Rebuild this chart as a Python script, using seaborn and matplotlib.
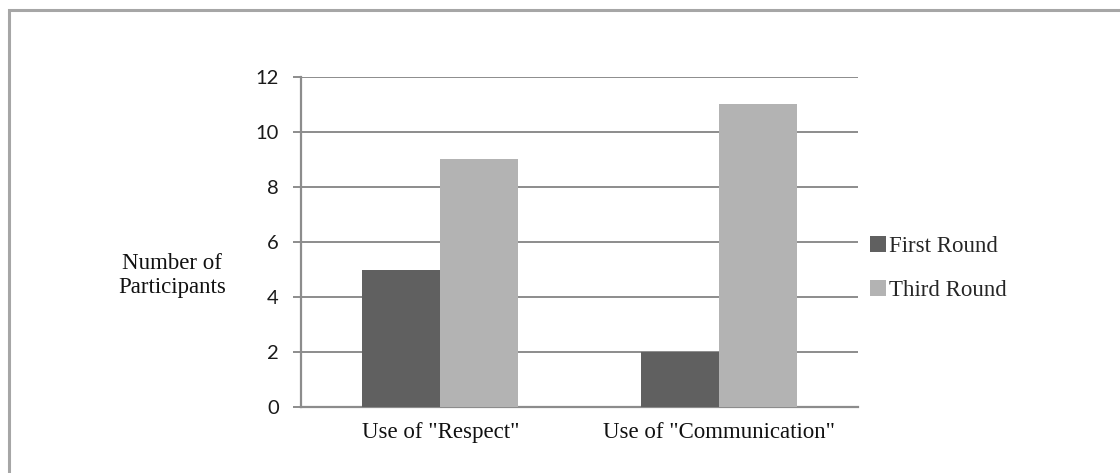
"""
Use of key words, first vs third round (bar chart recreation)
"""

import seaborn as sns
import numpy as np
import pandas as pd
import matplotlib.pyplot as plt
from matplotlib.patches import Rectangle

# data
categories = ['Use of "Respect"', 'Use of "Communication"']
rounds = ["First Round", "Third Round"]
first_round = [5, 2]
third_round = [9, 11]
y_ticks = [0, 2, 4, 6, 8, 10, 12]

colors = ["#606060", "#b3b3b3"]
grid_col = "#8c8c8c"
serif = ["Liberation Serif", "DejaVu Serif"]
sans = ["Lato", "DejaVu Sans"]

df = pd.DataFrame({
    "category": categories * 2,
    "round": [rounds[0]] * len(categories) + [rounds[1]] * len(categories),
    "count": first_round + third_round,
})

sns.set_style("white")

fig = plt.figure(figsize=(11.2, 4.73), dpi=100)
ax = fig.add_axes([301 / 1120, 66 / 473, 557 / 1120, 330 / 473])

sns.barplot(data=df, x="category", y="count", hue="round", order=categories,
            hue_order=rounds, palette=colors, width=0.56, saturation=1,
            edgecolor="none", linewidth=0, ax=ax, zorder=3)

ax.set_ylim(0, 12)
ax.set_xlim(-0.5, len(categories) - 0.5)
ax.set_yticks(y_ticks)
ax.set_yticklabels([str(t) for t in y_ticks], family=sans, fontsize=14.5, color="#1a1a1a")
ax.yaxis.grid(True, color=grid_col, linewidth=1.4, zorder=0)
ax.set_axisbelow(True)

# category tick labels centred, tick marks at the boundaries
ax.set_xticks(range(len(categories)))
ax.set_xticklabels(categories, family=serif, fontsize=16.5, color="#111111")
ax.tick_params(axis="x", which="major", length=0, pad=11)
ax.set_xticks(np.arange(-0.5, len(categories)), minor=True)
ax.tick_params(axis="x", which="minor", length=6, width=1.4, color=grid_col, direction="out")
ax.tick_params(axis="y", length=6, width=1.4, color=grid_col, direction="out", pad=10, left=True)

for side in ["top", "right"]:
    ax.spines[side].set_visible(False)
for side in ["left", "bottom"]:
    ax.spines[side].set_color(grid_col)
    ax.spines[side].set_linewidth(1.6)

ax.set_xlabel("")
ax.set_ylabel("Number of\nParticipants", rotation=0, family=serif, fontsize=16.5,
              color="#111111", ha="center", va="center", linespacing=1.2)
ax.yaxis.set_label_coords(-0.232, 0.398)

leg = ax.legend(loc="center left", bbox_to_anchor=(0.984, 0.42), frameon=False,
                handlelength=0.7, handleheight=0.7, handletextpad=0.15,
                labelspacing=1.0, prop={"family": serif, "size": 16.5})

# outer chart border (right and bottom edges fall outside the crop)
fig.patches.append(Rectangle((9 / 1120, -0.1), 1.2, 1 - 10 / 473 + 0.1,
                             transform=fig.transFigure, fill=False,
                             edgecolor="#a6a6a6", linewidth=2.2))

fig.savefig("out.png", dpi=100)
